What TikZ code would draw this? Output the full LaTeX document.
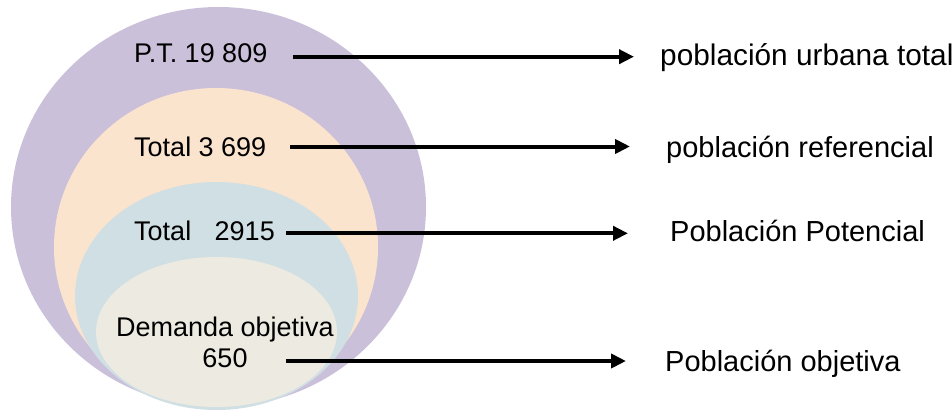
\documentclass[tikz,border=0pt]{standalone}
\usepackage{fontspec}
\setmainfont{Liberation Sans}
\usetikzlibrary{arrows.meta}
\definecolor{cpurple}{HTML}{CBC0DA}
\definecolor{cpeach}{HTML}{FBE4CD}
\definecolor{cblue}{HTML}{D0DFE3}
\definecolor{cbeige}{HTML}{EDEBE1}
\tikzset{
  lefttxt/.style={anchor=base west, inner sep=0pt, font=\fontsize{27}{32}\selectfont},
  midtxt/.style={anchor=base, inner sep=0pt, font=\fontsize{27}{32}\selectfont},
  righttxt/.style={anchor=base west, inner sep=0pt, font=\fontsize{29}{34}\selectfont},
  pointer/.style={line width=4pt, -{Triangle[length=15pt,width=14pt]}}
}
\begin{document}
\begin{tikzpicture}[x=1pt,y=-1pt]
\useasboundingbox (0,0) rectangle (952,412);
% nested ellipses
\fill[cpurple] (218.5,207) ellipse [x radius=207.5pt, y radius=200pt];
\fill[cpeach] (216,247) ellipse [x radius=162pt, y radius=159pt];
\fill[cblue] (216.5,296) ellipse [x radius=141.5pt, y radius=114pt];
\fill[cbeige] (216.5,332) ellipse [x radius=120.5pt, y radius=75pt];
% left labels
\node[lefttxt] (pt) at (134,62.3) {P.T. 19 809};
\node[lefttxt] (ref) at (134,156) {Total 3 699};
\node[lefttxt] (pot) at (134,240.7) {Total\hspace{16pt} 2915};
\node[midtxt] (dem) at (225,336.7) {Demanda objetiva};
\node[midtxt] (demn) at (225,367.7) {650};
% right labels
\node[righttxt, font=\fontsize{29.8}{34}\selectfont] (lurb) at (660,65) {población urbana total};
\node[righttxt] (lref) at (666,157.3) {población referencial};
\node[righttxt] (lpot) at (670,241) {Población Potencial};
\node[righttxt] (lobj) at (665,371.7) {Población objetiva};
% arrow ends
\coordinate (s1) at (293,56.7);
\coordinate (e1) at (634,56.7);
\coordinate (s2) at (290,146.5);
\coordinate (e2) at (630,146.5);
\coordinate (s3) at (286,233.3);
\coordinate (e3) at (628,233.3);
\coordinate (s4) at (286,361);
\coordinate (e4) at (626,361);
\draw[pointer] (s1) -- (e1);
\draw[pointer] (s2) -- (e2);
\draw[pointer] (s3) -- (e3);
\draw[pointer] (s4) -- (e4);
\end{tikzpicture}
\end{document}
